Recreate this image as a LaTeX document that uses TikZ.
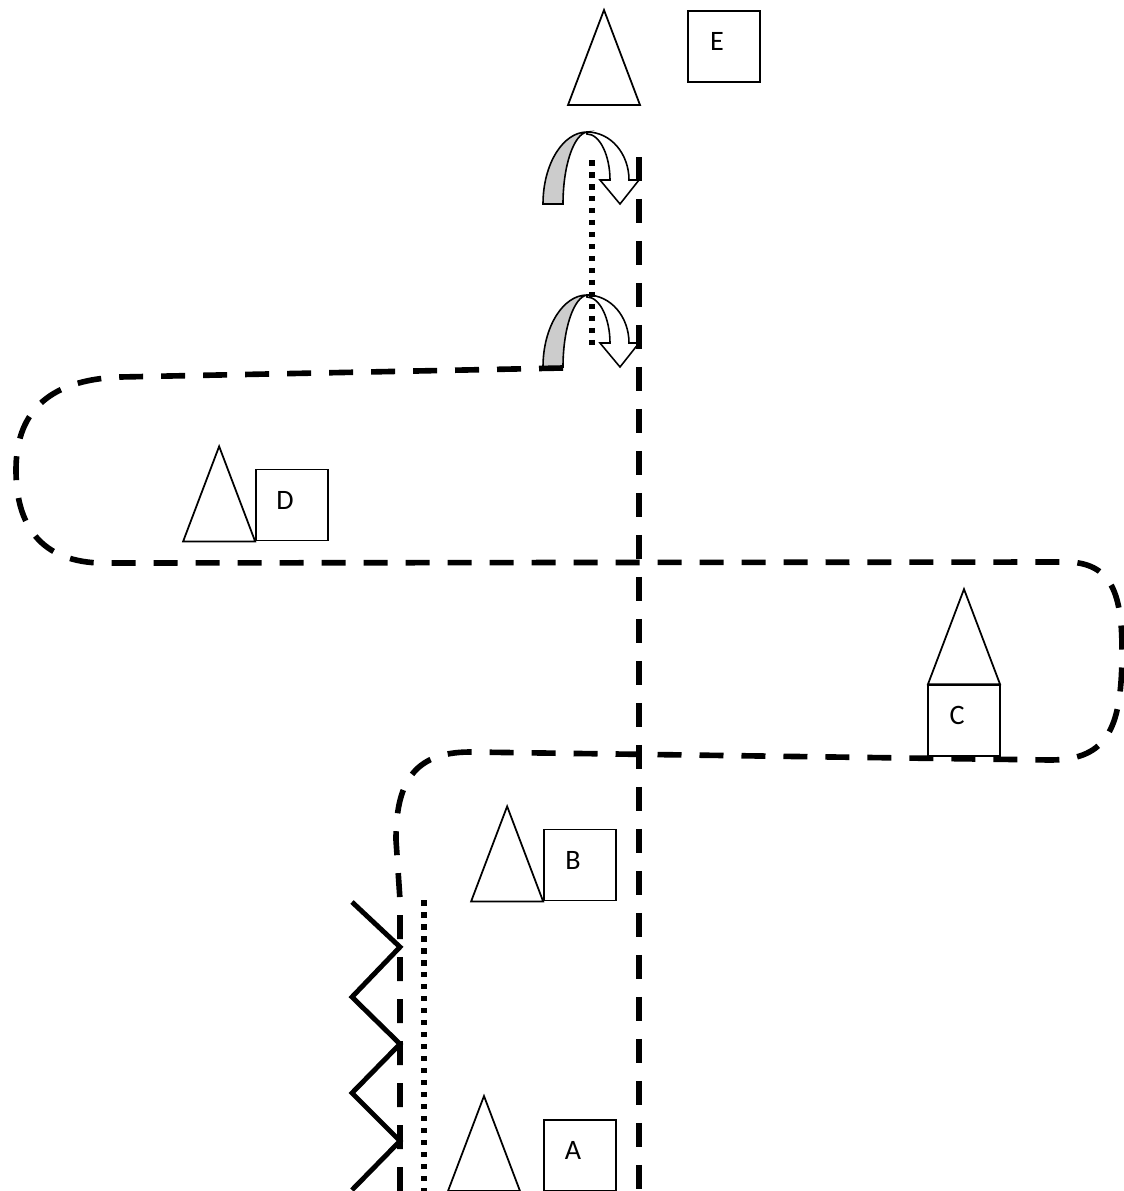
\documentclass[tikz,border=0pt]{standalone}
\usepackage{fontspec}
\setmainfont{Carlito}
\usetikzlibrary{positioning,calc}

\begin{document}
\begin{tikzpicture}[x=0.02cm, y=-0.02cm,
		every node/.style={font=\fontsize{16}{19}\selectfont},
		box/.style={draw, line width=1pt, minimum width=1.44cm, minimum height=1.42cm, inner sep=0pt},
		lbl/.style={inner sep=0pt, xshift=-0.14cm, yshift=0.1cm},
		route/.style={line width=3.2pt, dash pattern=on 0.48cm off 0.36cm},
		dots/.style={line width=3pt, dash pattern=on 0.11cm off 0.13cm},
		zig/.style={line width=2.8pt},
		tri/.pic={\draw[line width=1pt] (-36,0) -- (0,-95) -- (36,0) -- cycle;},
		uturn/.pic={
			\filldraw[fill=gray!40, line width=0.9pt] (-44,0) .. controls (-44,-40) and (-24,-72) .. (0,-72) .. controls (-13,-70) and (-24,-39) .. (-24,0) -- cycle;
			\filldraw[fill=white, line width=0.9pt] (0,-72) .. controls (24,-72) and (42,-50) .. (42,-24) -- (52,-24) -- (33,0) -- (13,-24) -- (23,-24) .. controls (23,-48) and (13,-70) .. (0,-70) -- cycle;
		}]
	\useasboundingbox (0,0) rectangle (1124,1191);
	
	\node[box] (eBox) at (724,46.5) {};
	\node[lbl] (eTxt) at (eBox.center) {E};
	\pic at (604,105) {tri};
	
	\node[box] (dBox) at (292,505) {};
	\node[lbl] (dTxt) at (dBox.center) {D};
	\pic at ([xshift=-0.72cm]dBox.south west) {tri};
	
	\node[box] (cBox) at (964,720.5) {};
	\node[lbl] (cTxt) at (cBox.center) {C};
	\pic at (cBox.north) {tri};
	
	\node[box] (bBox) at (580,865) {};
	\node[lbl] (bTxt) at (bBox.center) {B};
	\pic at ([xshift=-0.72cm]bBox.south west) {tri};
	
	\node[box] (aBox) at (580,1155.5) {};
	\node[lbl] (aTxt) at (aBox.center) {A};
	\pic at (484,1191) {tri};
	
	% turning arrows
	\pic at (587,204) {uturn};
	\pic at (587,367) {uturn};
	
	% route
	\draw[route] (563,368) -- (120,377) .. controls (45,380) and (16,415) .. (16,470)
		.. controls (16,530) and (45,565) .. (110,563) -- (1060,562)
		.. controls (1110,560) and (1122,590) .. (1122,650)
		.. controls (1122,725) and (1110,760) .. (1050,760) -- (470,752)
		.. controls (412,752) and (396,785) .. (396,840) -- (400,900) -- (400,1191);
	\draw[route] (639,157) -- (639,1191);
	
	\draw[dots] (592,160) -- (592,347);
	\draw[dots] (424,900) -- (424,1191);
	
	\draw[zig] (352,902) -- (400,947) -- (352,997) -- (400,1044) -- (352,1093) -- (400,1141) -- (352,1190);
\end{tikzpicture}
\end{document}
